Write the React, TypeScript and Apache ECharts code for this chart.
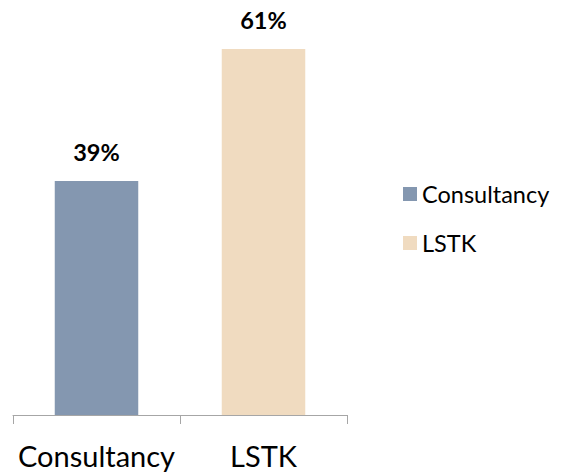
import React, { useEffect, useRef } from "react";
import * as echarts from "echarts";

const categories = ["Consultancy", "LSTK"];
const seriesNames = ["Consultancy", "LSTK"];
const values = [39, 61];
const colors = ["#8497B0", "#F0DBC0"];

export default function App() {
  const ref = useRef<HTMLDivElement>(null);
  useEffect(() => {
    const chart = echarts.init(ref.current!, null, { renderer: "svg" });
    const font = "Lato, 'Noto Sans', sans-serif";
    chart.setOption({
      animation: false,
      backgroundColor: "#ffffff",
      textStyle: { fontFamily: font },
      grid: { left: 13, right: 214, top: 25, bottom: 59, containLabel: false },
      legend: {
        orient: "vertical",
        left: 398,
        top: 177,
        icon: "rect",
        itemWidth: 14,
        itemHeight: 14,
        itemGap: 25,
        textStyle: { fontSize: 23.5, color: "#000", fontFamily: font },
        data: seriesNames,
      },
      xAxis: {
        type: "category",
        data: categories,
        axisLine: { lineStyle: { color: "#A6A6A6", width: 1 } },
        axisTick: { show: true, length: 9, lineStyle: { color: "#A6A6A6" } },
        axisLabel: { interval: 0, fontSize: 29, color: "#000", margin: 26, fontFamily: font },
      },
      yAxis: { type: "value", min: 0, max: 65, show: false, splitLine: { show: false } },
      series: seriesNames.map((name, i) => ({
        name,
        type: "bar",
        stack: "total",
        barWidth: "50%",
        itemStyle: { color: colors[i] },
        label: {
          show: true,
          position: "top",
          distance: 17,
          formatter: "{c}%",
          fontSize: 23.5,
          fontWeight: "bold",
          color: "#000",
          fontFamily: font,
        },
        data: categories.map((_, j) => (j === i ? values[i] : "-")),
      })),
    });
    return () => chart.dispose();
  }, []);
  return <div ref={ref} style={{ position: "fixed", left: 0, top: 0, width: 561, height: 474 }} />;
}
